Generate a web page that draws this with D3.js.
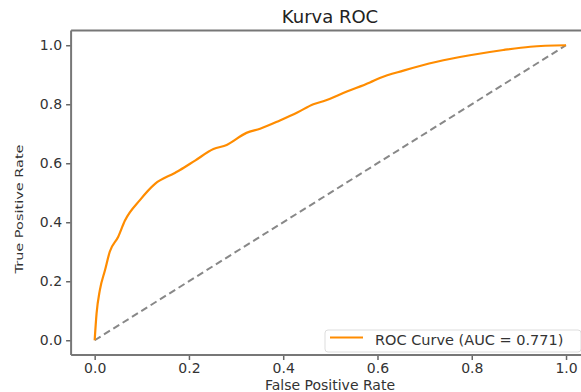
<!DOCTYPE html>
<html>
<head>
<meta charset="utf-8">
<script src="https://cdn.jsdelivr.net/npm/d3@7"></script>
<style>
  body { margin: 0; background: #fff; }
  text { font-family: "DejaVu Sans", sans-serif; }
</style>
</head>
<body>
<div id="chart"></div>
<script>
// ROC curve points
const fpr = [0, 0.004, 0.011, 0.022, 0.032, 0.05, 0.064, 0.096, 0.128, 0.17, 0.181, 0.213,
  0.252, 0.28, 0.322, 0.351, 0.393, 0.43, 0.464, 0.485, 0.535, 0.584, 0.605, 0.655, 0.726,
  0.796, 0.867, 0.924, 1];
const tpr = [0, 0.09, 0.17, 0.238, 0.3, 0.351, 0.405, 0.475, 0.53, 0.567, 0.577, 0.609,
  0.648, 0.662, 0.703, 0.717, 0.745, 0.772, 0.8, 0.81, 0.843, 0.874, 0.889, 0.914, 0.944,
  0.966, 0.984, 0.995, 1];
const diagonal = [0, 1];
const ticks = [0, 0.2, 0.4, 0.6, 0.8, 1.0];
const legendLabel = "ROC Curve (AUC = 0.771)";

const width = 581, height = 392;

const x = d3.scaleLinear().domain([-0.05, 1.05]).range([71.1, 589.6]);
const y = d3.scaleLinear().domain([-0.05, 1.05]).range([355, 30.5]);

const svg = d3.select("#chart").append("svg")
  .attr("width", width)
  .attr("height", height);

// diagonal reference
svg.append("path")
  .datum(diagonal)
  .attr("fill", "none")
  .attr("stroke", "#888")
  .attr("stroke-width", 2)
  .attr("stroke-dasharray", "7,4")
  .attr("d", d3.line().x(d => x(d)).y(d => y(d)));

// roc curve
const pts = fpr.map((f, i) => [f, tpr[i]]);
svg.append("path")
  .datum(pts)
  .attr("fill", "none")
  .attr("stroke", "#ff8c00")
  .attr("stroke-width", 2.2)
  .attr("stroke-linejoin", "round")
  .attr("d", d3.line().curve(d3.curveMonotoneX).x(d => x(d[0])).y(d => y(d[1])));

// axes
const xAxis = svg.append("g")
  .attr("transform", `translate(0,${y(-0.05)})`)
  .call(d3.axisBottom(x).tickValues(ticks).tickFormat(d3.format(".1f")).tickSize(5).tickPadding(3));
const yAxis = svg.append("g")
  .attr("transform", `translate(${x(-0.05)},0)`)
  .call(d3.axisLeft(y).tickValues(ticks).tickFormat(d3.format(".1f")).tickSize(5).tickPadding(4));

[xAxis, yAxis].forEach(g => {
  g.select(".domain").remove();
  g.selectAll("line").attr("stroke", "#666").attr("stroke-width", 1.5);
  g.selectAll("text").attr("fill", "#333").style("font-size", "14px");
});

// spines
svg.append("line").attr("x1", x(-0.05)).attr("x2", x(-0.05)).attr("y1", y(1.05)).attr("y2", y(-0.05))
  .attr("stroke", "#777").attr("stroke-width", 2);
svg.append("line").attr("x1", x(-0.05)).attr("x2", width).attr("y1", y(-0.05)).attr("y2", y(-0.05))
  .attr("stroke", "#777").attr("stroke-width", 2);
svg.append("line").attr("x1", x(-0.05)).attr("x2", width).attr("y1", y(1.05)).attr("y2", y(1.05))
  .attr("stroke", "#777").attr("stroke-width", 2);

// title and labels
svg.append("text")
  .attr("x", 330).attr("y", 23)
  .attr("text-anchor", "middle")
  .attr("fill", "#222")
  .style("font-size", "18px")
  .text("Kurva ROC");

svg.append("text")
  .attr("x", 330).attr("y", 390)
  .attr("text-anchor", "middle")
  .attr("fill", "#333")
  .style("font-size", "14px")
  .text("False Positive Rate");

svg.append("text")
  .attr("transform", `translate(23,209) rotate(-90) scale(1,0.75)`)
  .attr("text-anchor", "middle")
  .attr("fill", "#333")
  .style("font-size", "14.5px")
  .text("True Positive Rate");

// legend
const lg = svg.append("g");
lg.append("rect")
  .attr("x", 325).attr("y", 330).attr("width", 256).attr("height", 22)
  .attr("rx", 3)
  .attr("fill", "#fff").attr("fill-opacity", 0.85)
  .attr("stroke", "#ddd");
lg.append("line")
  .attr("x1", 330).attr("x2", 363).attr("y1", 337.5).attr("y2", 337.5)
  .attr("stroke", "#ff8c00").attr("stroke-width", 2.2);
lg.append("text")
  .attr("x", 375).attr("y", 345)
  .attr("fill", "#333")
  .style("font-size", "14.5px")
  .text(legendLabel);
</script>
</body>
</html>
